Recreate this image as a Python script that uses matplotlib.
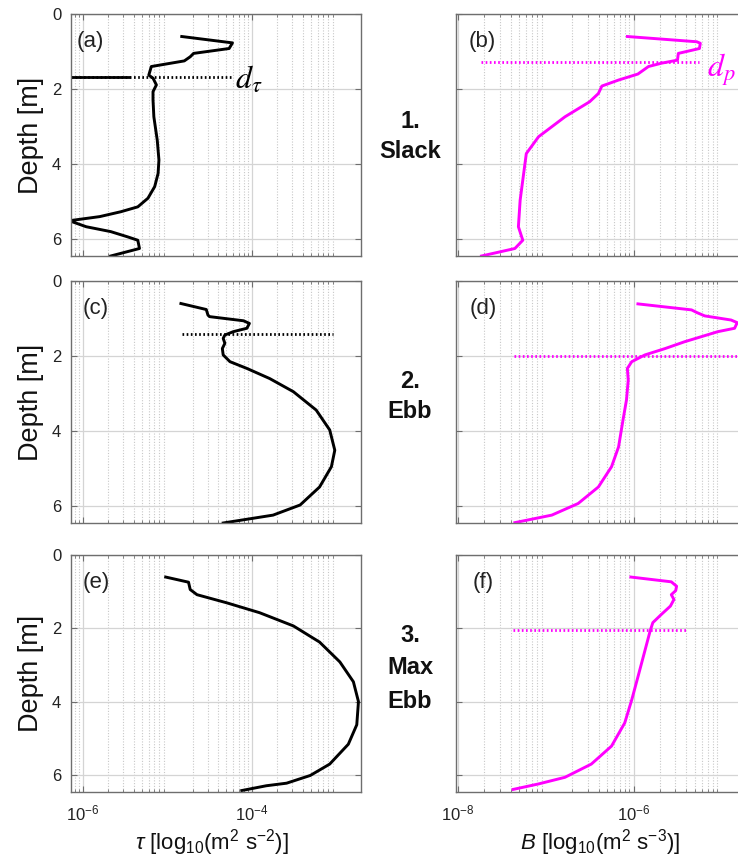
import numpy as np
import matplotlib
matplotlib.use('Agg')
import matplotlib.pyplot as plt
from matplotlib.ticker import FixedLocator, LogLocator, NullFormatter, LogFormatterSciNotation

plt.rcParams['font.family'] = ['Liberation Sans', 'DejaVu Sans']
plt.rcParams['mathtext.fontset'] = 'custom'
plt.rcParams['mathtext.rm'] = 'Liberation Sans'
plt.rcParams['mathtext.it'] = 'Liberation Sans:italic'
plt.rcParams['mathtext.bf'] = 'Liberation Sans:bold'

# ---------------- data (log10 values) ----------------
a_depth = [0.60, 0.77, 0.92, 1.05, 1.14, 1.25, 1.40, 1.63, 1.71, 1.89, 2.07, 2.29, 2.74, 3.36,
           3.89, 4.25, 4.60, 4.91, 5.14, 5.27, 5.40, 5.51, 5.67, 5.80, 5.94, 6.03, 6.25, 6.45]
a_log = [-4.83, -4.23, -4.27, -4.69, -4.73, -4.80, -5.19, -5.22, -5.17, -5.13, -5.17, -5.17, -5.16, -5.12,
         -5.10, -5.11, -5.15, -5.23, -5.35, -5.55, -5.80, -6.16, -5.96, -5.67, -5.47, -5.35, -5.33, -5.67]

c_depth = [0.60, 0.76, 0.91, 0.95, 1.06, 1.13, 1.26, 1.35, 1.44, 1.53, 1.66, 1.80, 1.97, 2.15, 2.33,
           2.60, 2.95, 3.44, 3.97, 4.51, 4.95, 5.49, 5.97, 6.24, 6.45]
c_log = [-4.84, -4.54, -4.52, -4.50, -4.10, -4.03, -4.06, -4.22, -4.32, -4.34, -4.32, -4.35, -4.34, -4.26, -4.06,
         -3.79, -3.51, -3.24, -3.08, -3.02, -3.06, -3.20, -3.43, -3.75, -4.34]

e_depth = [0.60, 0.74, 0.94, 1.08, 1.30, 1.57, 1.93, 2.37, 2.91, 3.45, 3.99, 4.62, 5.15, 5.69,
           6.00, 6.21, 6.28, 6.41]
e_log = [-5.02, -4.75, -4.73, -4.65, -4.30, -3.91, -3.51, -3.20, -2.96, -2.80, -2.74, -2.76, -2.86, -3.08,
         -3.31, -3.59, -3.83, -4.12]

b_depth = [0.60, 0.74, 0.78, 0.92, 1.05, 1.23, 1.31, 1.40, 1.60, 1.76, 1.92, 2.12, 2.34, 2.74, 3.27,
           3.72, 4.25, 4.96, 5.67, 6.03, 6.25, 6.45]
b_log = [-6.07, -5.28, -5.24, -5.25, -5.49, -5.50, -5.68, -5.83, -5.95, -6.17, -6.36, -6.40, -6.50, -6.78, -7.08,
         -7.22, -7.25, -7.29, -7.31, -7.26, -7.35, -7.73]

d_depth = [0.61, 0.77, 0.84, 0.93, 1.04, 1.11, 1.26, 1.35, 1.62, 1.80, 1.97, 2.15, 2.33, 2.64, 3.17,
           3.71, 4.42, 4.95, 5.49, 5.93, 6.24, 6.44]
d_log = [-5.95, -5.34, -5.28, -5.19, -4.89, -4.82, -4.85, -5.04, -5.42, -5.64, -5.87, -6.02, -6.07, -6.06, -6.08,
         -6.12, -6.17, -6.25, -6.40, -6.63, -6.93, -7.35]

f_depth = [0.60, 0.73, 0.85, 0.97, 1.08, 1.21, 1.39, 1.61, 1.84, 2.06, 2.60, 3.32, 3.94, 4.57, 5.20,
           5.69, 6.05, 6.23, 6.38]
f_log = [-6.03, -5.57, -5.51, -5.52, -5.57, -5.54, -5.58, -5.68, -5.78, -5.81, -5.87, -5.95, -6.02, -6.10, -6.25,
         -6.48, -6.78, -7.08, -7.37]

# marker depths (d_tau for tau panels, d_p for B panels) and their x extents (log10)
dtau_depth = [1.69, 1.41]
dtau_x = [(-6.14, -4.23), (-4.83, -3.04)]
dp_depth = [1.27, 2.00, 2.04]
dp_x = [(-7.73, -5.25), (-7.36, -4.78), (-7.375, -5.38)]

panel_labels = ['(a)', '(b)', '(c)', '(d)', '(e)', '(f)']
phase_labels = [['1.', 'Slack'], ['2.', 'Ebb'], ['3.', 'Max', 'Ebb']]
tau_ticks = [1e-6, 1e-4, 1e-2]
b_ticks = [1e-8, 1e-6, 1e-4]
yticks = [0, 2, 4, 6]

# ---------------- figure ----------------
W, H = 738, 856
fig = plt.figure(figsize=(W / 100, H / 100), dpi=100)

def rect(x0, y0, x1, y1):
    return [x0 / W, 1 - y1 / H, (x1 - x0) / W, (y1 - y0) / H]

rows = [(14, 256), (281, 523), (555, 792)]
cols = [(71, 361), (456, 746)]
tau_lim = (10 ** -6.14, 10 ** -2.71)
b_lim = (10 ** -8.02, 10 ** -4.72)
YMAX = 6.45

frame = '#6e6e6e'
black_curves = [(a_log, a_depth), (c_log, c_depth), (e_log, e_depth)]
mag_curves = [(b_log, b_depth), (d_log, d_depth), (f_log, f_depth)]
MAG = '#ff00ff'
label_x = [[0.02, 0.045], [0.04, 0.048], [0.04, 0.058]]

axes = []
for r, (y0, y1) in enumerate(rows):
    for c, (x0, x1) in enumerate(cols):
        ax = fig.add_axes(rect(x0, y0, x1, y1))
        axes.append(ax)
        ax.set_xscale('log')
        if c == 0:
            ax.set_xlim(*tau_lim)
            ax.xaxis.set_major_locator(FixedLocator(tau_ticks))
        else:
            ax.set_xlim(*b_lim)
            ax.xaxis.set_major_locator(FixedLocator(b_ticks))
        ax.xaxis.set_major_formatter(LogFormatterSciNotation())
        ax.xaxis.set_minor_locator(LogLocator(base=10, subs=np.arange(2, 10), numticks=50))
        ax.xaxis.set_minor_formatter(NullFormatter())
        ax.set_ylim(YMAX, 0)
        ax.set_yticks(yticks)
        ax.grid(which='major', axis='both', color='#d4d4d4', lw=0.9, ls='-')
        ax.grid(which='minor', axis='x', color='#c8c8c8', lw=0.8, ls=(0, (1, 1.5)))
        ax.set_axisbelow(True)
        for s in ax.spines.values():
            s.set_color(frame)
            s.set_linewidth(1.0)
        ax.tick_params(which='both', direction='in', top=True, right=True, colors=frame,
                       labelcolor='#222222', labelsize=12)
        ax.tick_params(which='major', length=4, width=0.8)
        ax.tick_params(which='minor', length=2, width=0.6)
        ax.tick_params(axis='x', pad=8)
        ax.tick_params(axis='y', pad=7)
        if r < 2:
            ax.tick_params(axis='x', labelbottom=False)
        if c == 1:
            ax.tick_params(axis='y', labelleft=False)
        else:
            ax.set_ylabel('Depth [m]', fontsize=19.5, labelpad=6, color='#111111')
        ax.text(label_x[r][c], 0.885, panel_labels[2 * r + c],
                transform=ax.transAxes, fontsize=16, ha='left', va='center', color='#222222')

        if c == 0:
            xs, ds = black_curves[r]
            ax.plot(10 ** np.array(xs), ds, color='black', lw=2.1, solid_joinstyle='round')
        else:
            xs, ds = mag_curves[r]
            ax.plot(10 ** np.array(xs), ds, color=MAG, lw=2.1, solid_joinstyle='round')

# d_tau markers
for ax, dep, (xa, xb) in zip([axes[0], axes[2]], dtau_depth, dtau_x):
    ax.plot([10 ** xa, 10 ** xb], [dep, dep], color='black', lw=2.0, ls=(0, (0.6, 0.9)))
# denser solid start of the d_tau line in (a)
axes[0].plot([10 ** dtau_x[0][0], 10 ** -5.45], [dtau_depth[0], dtau_depth[0]], color='black', lw=2.0)

# d_p markers
for ax, dep, (xa, xb) in zip([axes[1], axes[3], axes[5]], dp_depth, dp_x):
    ax.plot([10 ** xa, 10 ** xb], [dep, dep], color=MAG, lw=2.0, ls=(0, (0.6, 0.9)))

axes[0].text(10 ** -4.2, 1.76, r'$d_\tau$', math_fontfamily='stix', fontsize=23,
             ha='left', va='center', color='black', clip_on=False)
axes[1].text(10 ** -5.16, 1.50, r'$d_p$', math_fontfamily='stix', fontsize=23,
             ha='left', va='center', color=MAG, clip_on=False)

axes[4].set_xlabel(r'$\tau$ [log$_{10}$(m$^{2}$ s$^{-2}$)]', fontsize=16, color='#111111')
axes[5].set_xlabel(r'$B$ [log$_{10}$(m$^{2}$ s$^{-3}$)]', fontsize=16, color='#111111')
axes[4].xaxis.set_label_coords((212 - 71) / 290, -0.147)
axes[5].xaxis.set_label_coords((600 - 456) / 290, -0.147)
axes[4].xaxis.label.set_va('top')
axes[5].xaxis.label.set_va('top')

# phase labels in the middle column
phase_y = [[122, 152], [382, 411], [636, 668, 702]]
for words, ys in zip(phase_labels, phase_y):
    for w, yy in zip(words, ys):
        fig.text(410 / W, 1 - yy / H, w, fontsize=17, fontweight='bold', ha='center', va='center',
                 color='#111111')

fig.savefig('out.png', dpi=100)
